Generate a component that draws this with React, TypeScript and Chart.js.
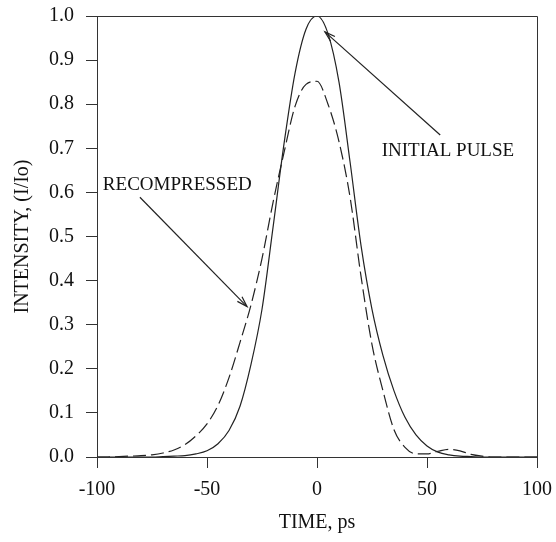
import React, { useEffect, useRef } from "react";
import { Chart, registerables } from "chart.js";

Chart.register(...registerables);

// ---- data ----
const timePs = [
  -100, -95, -90, -85, -80, -75, -70, -65, -60, -55, -50, -45, -40, -35, -30, -25, -20, -15, -10, -5,
  0, 5, 10, 15, 20, 25, 30, 35, 40, 45, 50, 55, 60, 65, 70, 75, 80, 85, 90, 95, 100,
];
const initialPulse = [
  0, 0, 0, 0, 0, 0, 0.001, 0.002, 0.003, 0.007, 0.014, 0.03, 0.06, 0.115, 0.21, 0.335, 0.52, 0.71, 0.87, 0.97,
  1.0, 0.96, 0.85, 0.67, 0.48, 0.335, 0.23, 0.15, 0.09, 0.05, 0.025, 0.011, 0.005, 0.002, 0.001, 0, 0, 0, 0, 0, 0,
];
const recompressed = [
  0, 0, 0.001, 0.002, 0.003, 0.005, 0.009, 0.016, 0.028, 0.048, 0.075, 0.117, 0.18, 0.26, 0.345, 0.45, 0.577, 0.69, 0.795, 0.845,
  0.852, 0.8, 0.715, 0.59, 0.41, 0.255, 0.15, 0.062, 0.022, 0.007, 0.007, 0.013, 0.0175, 0.014, 0.006, 0.002, 0, 0, 0, 0, 0,
];
const xTickValues = [-100, -50, 0, 50, 100];
const yTickValues = [0, 0.1, 0.2, 0.3, 0.4, 0.5, 0.6, 0.7, 0.8, 0.9, 1.0];

// annotation labels (data units)
const initialLabel = { text: "INITIAL PULSE", x: 59.5, y: 0.693, fromX: 56, fromY: 0.73, toX: 3.6, toY: 0.964 };
const recompLabel = { text: "RECOMPRESSED", x: -63.5, y: 0.617, fromX: -80.5, fromY: 0.589, toX: -31.8, toY: 0.341 };

const FONT = "'Liberation Serif', 'Times New Roman', serif";
const INK = "#222";

const annotationPlugin = {
  id: "frameAndNotes",
  afterDatasetsDraw(chart: any) {
    const { ctx, chartArea, scales } = chart;
    const xs = scales.x;
    const ys = scales.y;
    ctx.save();
    // top & right frame
    ctx.strokeStyle = "#333";
    ctx.lineWidth = 1;
    ctx.beginPath();
    ctx.moveTo(chartArea.left, chartArea.top + 0.5);
    ctx.lineTo(chartArea.right + 0.5, chartArea.top + 0.5);
    ctx.lineTo(chartArea.right + 0.5, chartArea.bottom);
    ctx.stroke();

    const drawNote = (n: any) => {
      ctx.fillStyle = "#111";
      ctx.font = `19px ${FONT}`;
      ctx.textAlign = "center";
      ctx.textBaseline = "middle";
      ctx.fillText(n.text, xs.getPixelForValue(n.x), ys.getPixelForValue(n.y));
      const x1 = xs.getPixelForValue(n.fromX);
      const y1 = ys.getPixelForValue(n.fromY);
      const x2 = xs.getPixelForValue(n.toX);
      const y2 = ys.getPixelForValue(n.toY);
      ctx.strokeStyle = INK;
      ctx.lineWidth = 1.2;
      ctx.beginPath();
      ctx.moveTo(x1, y1);
      ctx.lineTo(x2, y2);
      ctx.stroke();
      const ang = Math.atan2(y2 - y1, x2 - x1);
      const L = 11;
      const spread = 0.3;
      ctx.beginPath();
      ctx.moveTo(x2 - L * Math.cos(ang - spread), y2 - L * Math.sin(ang - spread));
      ctx.lineTo(x2, y2);
      ctx.lineTo(x2 - L * Math.cos(ang + spread), y2 - L * Math.sin(ang + spread));
      ctx.stroke();
    };
    drawNote(initialLabel);
    drawNote(recompLabel);
    ctx.restore();
  },
};

export default function App() {
  const canvasRef = useRef<HTMLCanvasElement | null>(null);

  useEffect(() => {
    if (!canvasRef.current) return;
    const chart = new Chart(canvasRef.current, {
      type: "line",
      data: {
        datasets: [
          {
            label: "Initial pulse",
            data: timePs.map((t, i) => ({ x: t, y: initialPulse[i] })),
            borderColor: INK,
            borderWidth: 1.2,
            pointRadius: 0,
            cubicInterpolationMode: "monotone",
            fill: false,
          },
          {
            label: "Recompressed",
            data: timePs.map((t, i) => ({ x: t, y: recompressed[i] })),
            borderColor: INK,
            borderWidth: 1.2,
            borderDash: [13, 5],
            pointRadius: 0,
            cubicInterpolationMode: "monotone",
            fill: false,
          },
        ],
      },
      options: {
        animation: false,
        responsive: true,
        maintainAspectRatio: false,
        layout: { padding: { top: 16, right: 19, left: 0, bottom: 0 } },
        plugins: { legend: { display: false }, tooltip: { enabled: false } },
        scales: {
          x: {
            type: "linear",
            min: -100,
            max: 100,
            afterFit: (s: any) => {
              s.height = 85;
              s.paddingLeft = 0;
              s.paddingRight = 0;
            },
            afterBuildTicks: (s: any) => {
              s.ticks = xTickValues.map((v) => ({ value: v }));
            },
            ticks: {
              color: "#111",
              font: { family: FONT, size: 20 },
              padding: 10,
              maxRotation: 0,
              callback: (v: any) => String(v),
            },
            grid: { drawOnChartArea: false, drawTicks: true, tickLength: 11, color: "#333", lineWidth: 1 },
            border: { display: true, color: "#333", width: 1 },
            title: {
              display: true,
              text: "TIME, ps",
              color: "#111",
              font: { family: FONT, size: 20 },
              padding: { top: 0, bottom: 7 },
            },
          },
          y: {
            type: "linear",
            min: 0,
            max: 1,
            afterFit: (s: any) => {
              s.width = 97;
              s.paddingTop = 0;
              s.paddingBottom = 0;
            },
            afterBuildTicks: (s: any) => {
              s.ticks = yTickValues.map((v) => ({ value: v }));
            },
            ticks: {
              color: "#111",
              font: { family: FONT, size: 20 },
              padding: 12,
              callback: (v: any) => Number(v).toFixed(1),
            },
            grid: { drawOnChartArea: false, drawTicks: true, tickLength: 11, color: "#333", lineWidth: 1 },
            border: { display: true, color: "#333", width: 1 },
            title: {
              display: true,
              text: "INTENSITY, (I/Io)",
              color: "#111",
              font: { family: FONT, size: 20 },
              padding: { top: 11, bottom: 0 },
            },
          },
        },
      },
      plugins: [annotationPlugin],
    });
    return () => chart.destroy();
  }, []);

  return (
    <div style={{ position: "absolute", left: 0, top: 0, width: 556, height: 542, background: "#fff" }}>
      <canvas ref={canvasRef} />
    </div>
  );
}
